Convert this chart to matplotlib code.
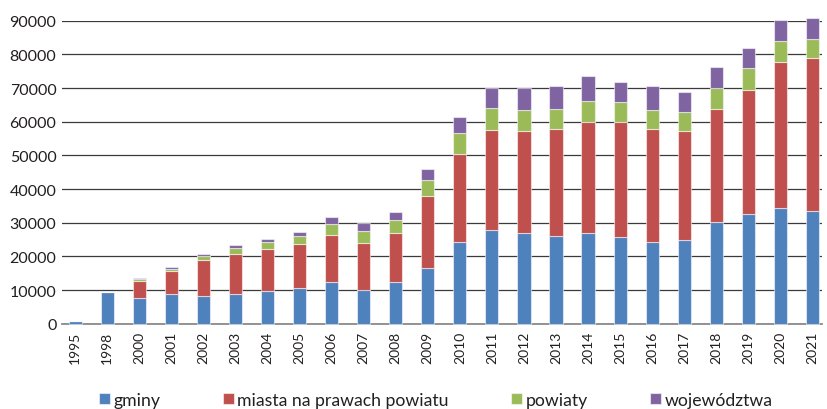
import numpy as np
from matplotlib import pyplot as plt

plt.rcParams['font.family'] = ['Lato', 'DejaVu Sans']

# dane
years = ['1995', '1998', '2000', '2001', '2002', '2003', '2004', '2005', '2006',
         '2007', '2008', '2009', '2010', '2011', '2012', '2013', '2014', '2015',
         '2016', '2017', '2018', '2019', '2020', '2021']
gminy = [700, 9500, 7500, 8700, 8200, 8900, 9800, 10500, 12300, 10100, 12300,
         16600, 24300, 27700, 26900, 26200, 26800, 25900, 24200, 24800, 30100,
         32500, 34400, 33500]
miasta = [0, 0, 5200, 7000, 10800, 11800, 12500, 13200, 14200, 14000, 14700,
          21400, 26100, 29900, 30400, 31600, 33200, 33900, 33700, 32400, 33600,
          37000, 43200, 45400]
powiaty = [0, 0, 500, 700, 1200, 1800, 1900, 2400, 3100, 3300, 3700, 4600,
           6200, 6600, 6200, 5900, 6200, 6000, 5600, 5600, 6400, 6500, 6500, 5700]
wojewodztwa = [0, 0, 300, 500, 600, 900, 900, 1100, 2000, 2600, 2500, 3500,
               4800, 5900, 6400, 6800, 7300, 6000, 7000, 6000, 6100, 5900, 6000, 6100]

series = [('gminy', gminy, '#4F81BD'),
          ('miasta na prawach powiatu', miasta, '#C0504D'),
          ('powiaty', powiaty, '#9BBB59'),
          ('województwa', wojewodztwa, '#8064A2')]


def main():
    fig = plt.figure(figsize=(8.27, 4.10), dpi=100)
    ax = fig.add_axes([0.075, 0.208, 0.919, 0.739])

    x = np.arange(len(years))
    bottom = np.zeros(len(years))
    for name, vals, color in series:
        vals = np.array(vals, dtype=float)
        ax.bar(x, vals, width=0.41, bottom=bottom, color=color, label=name,
               edgecolor=(1, 1, 1, 0.55), linewidth=0.8, zorder=3, clip_on=False)
        bottom += vals

    ax.set_ylim(0, 90000)
    ax.set_xlim(-0.41, 23.3)
    ax.set_yticks(range(0, 90001, 10000))
    ax.set_xticks(x)
    ax.set_xticklabels(years, rotation=90, fontsize=10, color='#231f20')
    ax.tick_params(axis='y', length=0, pad=4, labelsize=11.5, labelcolor='#231f20')
    ax.tick_params(axis='x', length=0, pad=5)

    ax.grid(axis='y', color='#3a3a3a', linewidth=0.9, zorder=0)
    for s in ['left', 'right', 'top']:
        ax.spines[s].set_visible(False)
    ax.spines['bottom'].set_color('#8a8a8a')
    ax.spines['bottom'].set_linewidth(1.3)
    ax.spines['bottom'].set_zorder(2)

    fig.legend(loc='center', bbox_to_anchor=(0.527, 0.022), ncol=4, frameon=False,
               fontsize=12.7, handlelength=0.6, handleheight=0.6,
               handletextpad=0.2, columnspacing=3.55, labelcolor='#231f20')

    plt.savefig('out.png', dpi=100)


if __name__ == "__main__":
    main()
